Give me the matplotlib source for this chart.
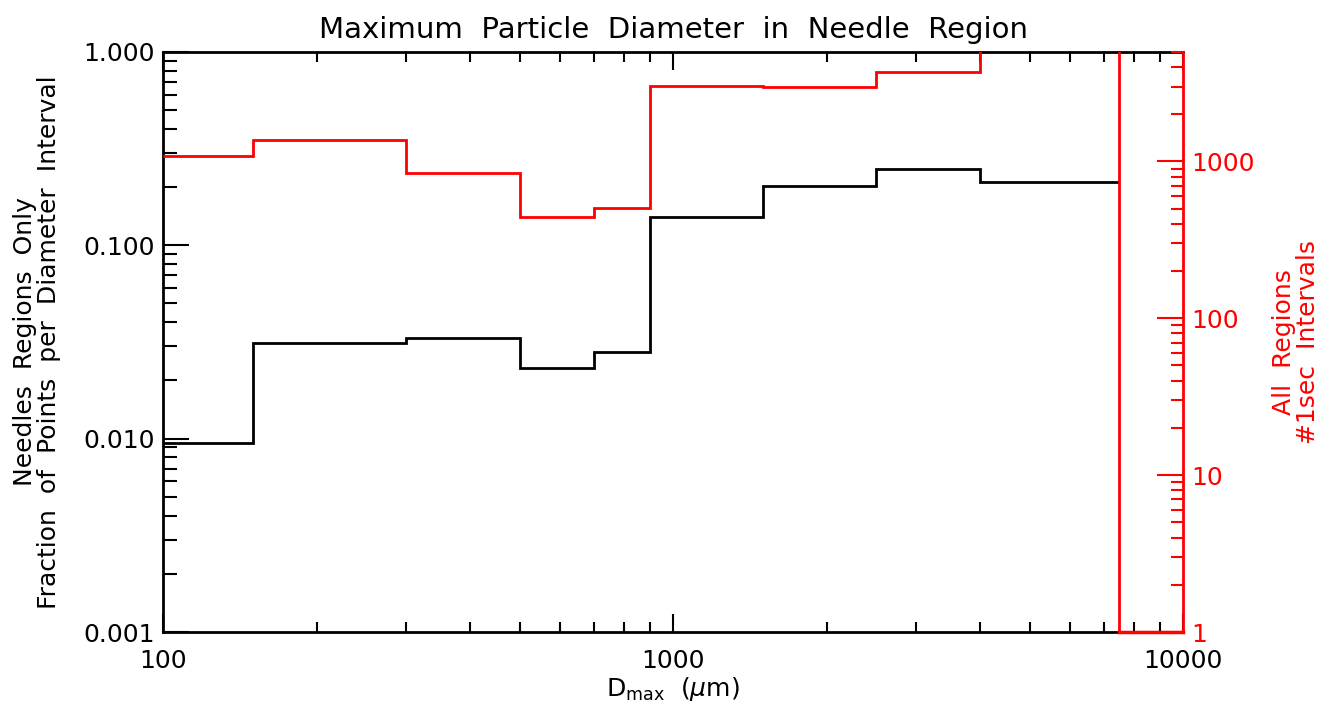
import matplotlib
matplotlib.use('Agg')
import matplotlib.pyplot as plt
import matplotlib.ticker as mticker
import numpy as np

# bin edges in um
edges_needle = [100, 150, 300, 500, 700, 900, 1500, 2500, 4000, 7500]
edges_all = [100, 150, 300, 500, 700, 900, 1500, 2500, 4000, 7500, 10000]

# fraction of points per diameter interval (needle regions only)
frac_needle = [0.0095, 0.0313, 0.0333, 0.0233, 0.0279, 0.1406, 0.203, 0.248, 0.212]
# number of 1 sec intervals (all regions)
count_all = [1090, 1370, 840, 445, 508, 3030, 2980, 3690, 6000, 1]

left_ticks = [0.001, 0.01, 0.1, 1.0]
right_ticks = [1, 10, 100, 1000]

plt.rcParams['font.family'] = ['DejaVu Sans']
plt.rcParams['mathtext.fontset'] = 'dejavusans'
fs = 18
red = '#ff0000'

fig = plt.figure(figsize=(13.25, 7.19), dpi=100)
ax = fig.add_axes([0.123, 0.121, 0.770, 0.807])

ax.stairs(frac_needle, edges_needle, baseline=None, color='black', linewidth=2)
ax.set_xscale('log')
ax.set_yscale('log')
ax.set_xlim(100, 10000)
ax.set_ylim(0.001, 1.0)
ax.set_yticks(left_ticks)
ax.yaxis.set_major_formatter(mticker.FuncFormatter(lambda v, p: f'{v:.3f}'))
ax.xaxis.set_major_formatter(mticker.FuncFormatter(lambda v, p: f'{v:.0f}'))
ax.xaxis.set_minor_formatter(mticker.NullFormatter())
ax.yaxis.set_minor_formatter(mticker.NullFormatter())
ax.tick_params(axis='x', which='major', direction='in', length=13, width=1.5,
               top=True, labelsize=fs, pad=12)
ax.tick_params(axis='x', which='minor', direction='in', length=7, width=1.5, top=True)
ax.tick_params(axis='y', which='major', direction='in', length=19, width=1.5,
               right=False, labelsize=fs, pad=6)
ax.tick_params(axis='y', which='minor', direction='in', length=10, width=1.5, right=False)
for s in ax.spines.values():
    s.set_linewidth(2)
ax.spines['right'].set_visible(False)

ax.set_title('Maximum  Particle  Diameter  in  Needle  Region', fontsize=21, pad=10)
ax.set_xlabel(r'D$_{\mathregular{max}}$  ($\mu$m)', fontsize=fs, labelpad=2)
ax.set_ylabel('Needles  Regions  Only\nFraction  of  Points  per  Diameter  Interval',
              fontsize=fs, labelpad=16, linespacing=1.0)

ax2 = ax.twinx()
ax2.stairs(count_all, edges_all, baseline=None, color=red, linewidth=2)
ax2.set_yscale('log')
ax2.set_ylim(1, 5000)
ax2.set_yticks(right_ticks)
ax2.yaxis.set_major_formatter(mticker.FuncFormatter(lambda v, p: f'{v:.0f}'))
ax2.yaxis.set_minor_formatter(mticker.NullFormatter())
ax2.tick_params(axis='y', which='major', direction='in', length=19, width=1.5,
                colors=red, labelsize=fs, pad=6)
ax2.tick_params(axis='y', which='minor', direction='in', length=9, width=1.5,
                colors=red)
for name in ['top', 'left']:
    ax2.spines[name].set_visible(False)
ax2.spines['right'].set_color(red)
ax2.spines['right'].set_linewidth(2)
# red segment of the baseline under the last (empty) bin
ax2.spines['bottom'].set_color(red)
ax2.spines['bottom'].set_linewidth(2.5)
ax2.spines['bottom'].set_bounds(edges_all[-2], edges_all[-1])
ax2.set_ylabel('All  Regions\n#1sec  Intervals', fontsize=fs, color=red,
               labelpad=12, linespacing=1.0)

fig.savefig('out.png', dpi=100)
